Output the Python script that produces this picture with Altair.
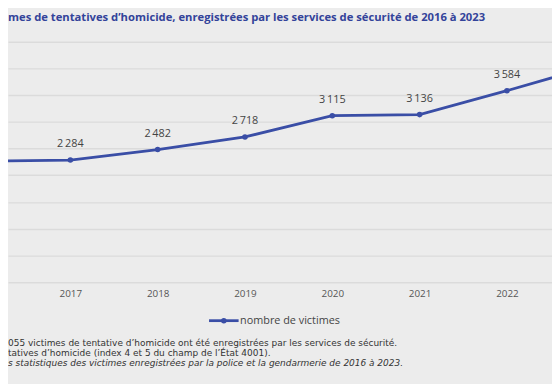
import altair as alt
import pandas as pd

# ---- data ----
years = [2016, 2017, 2018, 2019, 2020, 2021, 2022, 2023]
victims = [2266, 2284, 2482, 2718, 3115, 3136, 3584, 4055]
year_ticks = [2017, 2018, 2019, 2020, 2021, 2022]
y_grid = [0, 500, 1000, 1500, 2000, 2500, 3000, 3500, 4000, 4500]

title_text = "mes de tentatives d\u2019homicide, enregistrées par les services de sécurité de 2016 à 2023"
legend_label = "nombre de victimes"
note1 = "055 victimes de tentative d\u2019homicide ont été enregistrées par les services de sécurité."
note2 = "tatives d\u2019homicide (index 4 et 5 du champ de l\u2019État 4001)."
note3 = "s statistiques des victimes enregistrées par la police et la gendarmerie de 2016 à 2023."


def fr(v):
    return f"{v:,}".replace(",", "\u2009")


df = pd.DataFrame({"annee": years, "victimes": victims,
                   "label": [fr(v) for v in victims]})

# ---- layout (page px = reference px; the page margin is 8px) ----
M = 8
PT = 39.5 - M
H = 283.3 - 39.5
W = 560 - M
PB = (384 - M) - PT - H


def gx(r):
    return r - M


def gy(r):
    return r - M - PT


FONT = "Open Sans"
NOTE_FONT = "DejaVu Sans"
BLUE = "#3a4ea6"
BG = "#ececec"

x = alt.X("annee:Q",
          scale=alt.Scale(domain=[2016.286, 2022.516], nice=False, zero=False),
          axis=alt.Axis(values=year_ticks, format="d", title=None, grid=False,
                        domain=False, ticks=False, tickSize=0, labelPadding=7,
                        labelFontSize=10, labelColor="#555", labelFont=FONT,
                        tickCount=20))
y = alt.Y("victimes:Q",
          scale=alt.Scale(domain=[0, 4500], nice=False, zero=True),
          axis=alt.Axis(values=y_grid, tickCount=20, labels=False, ticks=False,
                        domain=False, title=None, grid=True, gridColor="#dbdbdb",
                        gridWidth=1.4))

base = alt.Chart(df)
line = base.mark_line(color=BLUE, strokeWidth=2.8, clip=True).encode(x=x, y=y)
pts = base.mark_circle(color=BLUE, size=32, opacity=1, clip=True).encode(
    x="annee:Q", y="victimes:Q")
lbl = base.mark_text(dy=-16, fontSize=11, color="#444", font=FONT, clip=True).encode(
    x="annee:Q", y="victimes:Q", text="label:N"
).transform_filter("datum.annee >= 2017 && datum.annee <= 2022")

one = pd.DataFrame({"t": [title_text], "l": [legend_label],
                    "n1": [note1], "n2": [note2], "n3": [note3]})
ann = alt.Chart(one)

title = ann.mark_text(align="left", baseline="middle", fontSize=11.4, fontWeight="bold",
                      color="#33439a", font=FONT).encode(
    x=alt.value(0), y=alt.value(gy(15)), text="t:N")

leg_rule = ann.mark_rule(color=BLUE, strokeWidth=2.8).encode(
    x=alt.value(gx(212)), x2=alt.value(gx(242)), y=alt.value(gy(322.5)))
leg_dot = ann.mark_circle(color=BLUE, size=32, opacity=1).encode(
    x=alt.value(gx(227)), y=alt.value(gy(322.5)))
leg_txt = ann.mark_text(align="left", baseline="middle", fontSize=11, color="#444",
                        font=FONT).encode(
    x=alt.value(gx(243.5)), y=alt.value(gy(322.5)), text="l:N")

NS = 9.1
n1 = ann.mark_text(align="left", baseline="middle", fontSize=NS, color="#333",
                   font=NOTE_FONT).encode(x=alt.value(0), y=alt.value(gy(345.4)), text="n1:N")
n2 = ann.mark_text(align="left", baseline="middle", fontSize=NS, color="#333",
                   font=NOTE_FONT).encode(x=alt.value(0), y=alt.value(gy(355.4)), text="n2:N")
n3 = ann.mark_text(align="left", baseline="middle", fontSize=NS, color="#333",
                   font=NOTE_FONT, fontStyle="italic").encode(
    x=alt.value(0), y=alt.value(gy(365.4)), text="n3:N")

chart = alt.layer(line, pts, lbl, title, leg_rule, leg_dot, leg_txt, n1, n2, n3).properties(
    width=W, height=H,
    padding={"left": 0, "top": PT, "right": 0, "bottom": PB},
    autosize=alt.AutoSizeParams(type="none"),
    background=BG,
).configure_view(stroke=None)

chart.save("out.html", embed_options={"renderer": "svg", "actions": False})
